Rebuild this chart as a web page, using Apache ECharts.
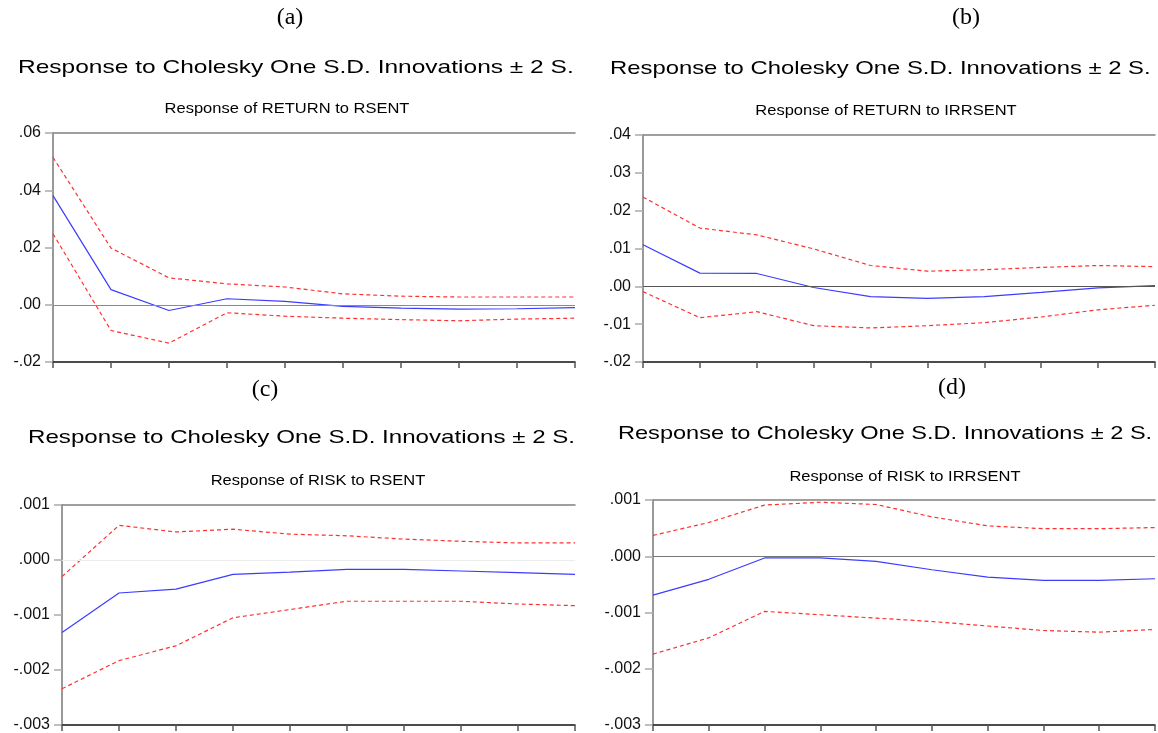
<!DOCTYPE html>
<html>
<head>
<meta charset="utf-8">
<title>Impulse responses</title>
<script src="https://cdn.jsdelivr.net/npm/echarts@6/dist/echarts.min.js"></script>
<style>
    html, body { margin: 0; padding: 0; background: #fff; }
    #chart { width: 1158px; height: 733px; }
</style>
</head>
<body>
<div id="chart"></div>
<script>
// periods 1..10
var periods = ['1', '2', '3', '4', '5', '6', '7', '8', '9', '10'];

// (a) RETURN to RSENT
var aResp  = [0.0381, 0.0053, -0.0020, 0.0021, 0.0012, -0.0006, -0.0012, -0.0015, -0.0014, -0.0010];
var aUpper = [0.0515, 0.0198, 0.0094, 0.0073, 0.0062, 0.0038, 0.0030, 0.0027, 0.0027, 0.0027];
var aLower = [0.0248, -0.0090, -0.0134, -0.0028, -0.0040, -0.0047, -0.0052, -0.0056, -0.0050, -0.0047];

// (b) RETURN to IRRSENT
var bResp  = [0.0110, 0.0035, 0.0034, -0.0003, -0.0027, -0.0032, -0.0027, -0.0016, -0.0004, 0.0002];
var bUpper = [0.0236, 0.0154, 0.0136, 0.0099, 0.0055, 0.0040, 0.0044, 0.0050, 0.0055, 0.0052];
var bLower = [-0.0014, -0.0083, -0.0067, -0.0104, -0.0110, -0.0104, -0.0096, -0.0081, -0.0062, -0.0050];

// (c) RISK to RSENT
var cResp  = [-0.00132, -0.00060, -0.00053, -0.00026, -0.00022, -0.00017, -0.00017, -0.00020, -0.00023, -0.00026];
var cUpper = [-0.00030, 0.00063, 0.00051, 0.00056, 0.00047, 0.00044, 0.00038, 0.00034, 0.00031, 0.00031];
var cLower = [-0.00234, -0.00183, -0.00156, -0.00105, -0.00090, -0.00075, -0.00075, -0.00075, -0.00080, -0.00083];

// (d) RISK to IRRSENT
var dResp  = [-0.00069, -0.00041, -0.00003, -0.00003, -0.00009, -0.00024, -0.00037, -0.00043, -0.00043, -0.00040];
var dUpper = [0.00037, 0.00060, 0.00091, 0.00096, 0.00092, 0.00070, 0.00054, 0.00049, 0.00049, 0.00051];
var dLower = [-0.00174, -0.00145, -0.00098, -0.00104, -0.00110, -0.00116, -0.00124, -0.00132, -0.00135, -0.00130];

var panelLetters = ['(a)', '(b)', '(c)', '(d)'];
var subTitles = ['Response of RETURN to RSENT', 'Response of RETURN to IRRSENT',
                 'Response of RISK to RSENT', 'Response of RISK to IRRSENT'];
var mainTitle = 'Response to Cholesky One S.D. Innovations \u00b1 2 S.';

var panels = [
    { resp: aResp, up: aUpper, lo: aLower, min: -0.02, max: 0.06, step: 0.02, dec: 2,
      grid: { left: 53, top: 133, width: 522, height: 229 }, zero: '#8a8a8a',
      letter: [290, 18], title: [18, 68], stretch: 1.29, sub: [287, 109] },
    { resp: bResp, up: bUpper, lo: bLower, min: -0.02, max: 0.04, step: 0.01, dec: 2,
      grid: { left: 643, top: 135, width: 512, height: 227 }, zero: '#555',
      letter: [966, 18], title: [610, 69], stretch: 1.255, sub: [886, 111] },
    { resp: cResp, up: cUpper, lo: cLower, min: -0.003, max: 0.001, step: 0.001, dec: 3,
      grid: { left: 62, top: 505, width: 513, height: 222 }, zero: '#ececec',
      letter: [265, 390], title: [28, 438], stretch: 1.27, sub: [318, 481] },
    { resp: dResp, up: dUpper, lo: dLower, min: -0.003, max: 0.001, step: 0.001, dec: 3,
      grid: { left: 653, top: 500, width: 502, height: 226 }, zero: '#777',
      letter: [952, 388], title: [618, 434], stretch: 1.24, sub: [905, 477] }
];

function fmt(dec) {
    return function (v) {
        var s = Number(v).toFixed(dec);
        return s.replace('0.', '.');
    };
}

var grids = [], xAxes = [], yAxes = [], series = [], graphics = [];

panels.forEach(function (p, i) {
    grids.push(p.grid);
    // bottom axis (data)
    xAxes.push({
        type: 'category', gridIndex: i, data: periods, boundaryGap: false, position: 'bottom',
        axisLine: { onZero: false, lineStyle: { color: '#111', width: 1.5 } },
        axisTick: { show: true, length: 6, inside: false, lineStyle: { color: '#555', width: 1.5 } },
        axisLabel: { show: false }, splitLine: { show: false }
    });
    // top border
    xAxes.push({
        type: 'category', gridIndex: i, data: periods, boundaryGap: false, position: 'top',
        axisLine: { onZero: false, lineStyle: { color: '#808080', width: 1.5 } },
        axisTick: { show: false }, axisLabel: { show: false }, splitLine: { show: false }
    });
    yAxes.push({
        type: 'value', gridIndex: i, min: p.min, max: p.max, interval: p.step,
        axisLine: { show: true, onZero: false, lineStyle: { color: '#777', width: 1.5 } },
        axisTick: { show: true, length: 8, lineStyle: { color: '#aaa', width: 1.5 } },
        axisLabel: { formatter: fmt(p.dec), color: '#111', fontFamily: 'Liberation Sans, Arial', fontSize: 16, margin: 12 },
        splitLine: { show: false }
    });
    series.push({
        type: 'line', xAxisIndex: i * 2, yAxisIndex: i, data: p.resp, symbol: 'none',
        lineStyle: { color: '#3c3cff', width: 1.2 }, z: 3,
        markLine: {
            silent: true, symbol: 'none', label: { show: false },
            lineStyle: { color: p.zero, type: 'solid', width: 1.2 },
            data: [{ yAxis: 0 }]
        }
    });
    series.push({
        type: 'line', xAxisIndex: i * 2, yAxisIndex: i, data: p.up, symbol: 'none',
        lineStyle: { color: '#ff3030', width: 1.2, type: [4, 3] }
    });
    series.push({
        type: 'line', xAxisIndex: i * 2, yAxisIndex: i, data: p.lo, symbol: 'none',
        lineStyle: { color: '#ff3030', width: 1.2, type: [4, 3] }
    });
    graphics.push({
        type: 'text', x: p.letter[0], y: p.letter[1],
        style: { text: panelLetters[i], font: '24px "Liberation Serif", "Times New Roman", serif',
                 fill: '#000', textAlign: 'center', textVerticalAlign: 'middle' }
    });
    graphics.push({
        type: 'text', x: p.title[0], y: p.title[1], scaleX: p.stretch,
        style: { text: mainTitle, font: '19px "Liberation Sans", Arial, sans-serif',
                 fill: '#000', textAlign: 'left', textVerticalAlign: 'middle' }
    });
    graphics.push({
        type: 'text', x: p.sub[0], y: p.sub[1], scaleX: 1.1,
        style: { text: subTitles[i], font: '15px "Liberation Sans", Arial, sans-serif',
                 fill: '#000', textAlign: 'center', textVerticalAlign: 'middle' }
    });
});

var chart = echarts.init(document.getElementById('chart'));
chart.setOption({
    animation: false,
    backgroundColor: '#fff',
    grid: grids,
    xAxis: xAxes,
    yAxis: yAxes,
    series: series,
    graphic: graphics
});
window.onresize = function () { chart.resize(); };
</script>
</body>
</html>
